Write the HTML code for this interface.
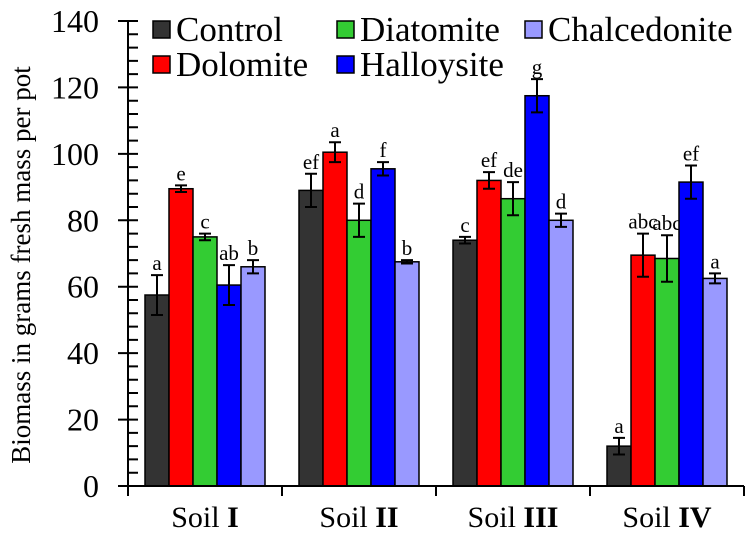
<!DOCTYPE html>
<html><head><meta charset="utf-8"><style>
html,body{margin:0;padding:0;background:#fff;}
svg{display:block;}
text{font-family:"Liberation Serif",serif;}
</style></head><body>
<svg id="chart" width="753" height="540" viewBox="0 0 753 540" font-family="Liberation Serif, serif"></svg>
<script>
const categories = ["I", "II", "III", "IV"];
const seriesNames = ["Control", "Dolomite", "Diatomite", "Halloysite", "Chalcedonite"];
const controlVals = [57.5, 89, 74, 12];
const dolomiteVals = [89.5, 100.5, 92, 69.5];
const diatomiteVals = [75, 80, 86.5, 68.5];
const halloysiteVals = [60.5, 95.5, 117.5, 91.5];
const chalcedoniteVals = [66, 67.5, 80, 62.5];
const controlErr = [6, 5, 1, 2.5];
const dolomiteErr = [1, 3, 2.5, 6.5];
const diatomiteErr = [1, 5, 5, 7];
const halloysiteErr = [6, 2, 5, 5];
const chalcedoniteErr = [2, 0.5, 2, 1.5];
const controlLetters = ["a", "ef", "c", "a"];
const dolomiteLetters = ["e", "a", "ef", "abc"];
const diatomiteLetters = ["c", "d", "de", "abc"];
const halloysiteLetters = ["ab", "f", "g", "ef"];
const chalcedoniteLetters = ["b", "b", "d", "a"];
const yTicks = [0, 20, 40, 60, 80, 100, 120, 140];

const values = [controlVals, dolomiteVals, diatomiteVals, halloysiteVals, chalcedoniteVals];
const errs = [controlErr, dolomiteErr, diatomiteErr, halloysiteErr, chalcedoniteErr];
const letters = [controlLetters, dolomiteLetters, diatomiteLetters, halloysiteLetters, chalcedoniteLetters];
const colors = ["#333333", "#ff0000", "#33cc33", "#0000ff", "#9999ff"];
const keys = ["control", "dolomite", "diatomite", "halloysite", "chalcedonite"];

const svg = document.getElementById('chart');
const NS = "http://www.w3.org/2000/svg";
const X0 = 128, X1 = 744, Y0 = 486, Y1 = 21, YMAX = 140;
const groupW = (X1 - X0) / categories.length;
const barW = 24;
function y(v){ return Y0 - (v / YMAX) * (Y0 - Y1); }
function gx(i){ return X0 + i * groupW; }
function mk(tag, attrs){ const e = document.createElementNS(NS, tag); for (const k in attrs) e.setAttribute(k, attrs[k]); svg.appendChild(e); return e; }
const FF = "Liberation Serif, serif";

categories.forEach((c, gi) => {
  const start = gx(gi) + groupW / 2 - barW * seriesNames.length / 2;
  values.forEach((arr, si) => {
    const v = arr[gi], bx = start + si * barW;
    const r = mk('rect', {x: bx, y: y(v), width: barW, height: Y0 - y(v), fill: colors[si], stroke: '#000', 'stroke-width': 1.5});
    
    
    const e = errs[si][gi], cx = bx + barW / 2;
    const eb = mk('path', {d: `M${cx},${y(v+e)}V${y(v-e)}M${cx-6},${y(v+e)}H${cx+6}M${cx-6},${y(v-e)}H${cx+6}`, stroke: '#000', 'stroke-width': 2, fill: 'none'});
    
    
    const t = mk('text', {x: cx, y: y(v+e) - 5, 'font-size': 21, 'font-family': FF, 'text-anchor': 'middle', fill: '#000'});
    t.textContent = letters[si][gi];
    
    
  });
  const lab = mk('text', {x: gx(gi) + groupW / 2, y: 527, 'font-size': 30, 'font-family': FF, 'text-anchor': 'middle', fill: '#000'});
  lab.innerHTML = 'Soil <tspan font-weight="bold">' + c + '</tspan>';
  
  
});

const ax = mk('path', {d: `M${X0},${Y1}V${Y0+1}M${X0-10},${Y0}H${X1}`, stroke: '#000', 'stroke-width': 2, fill: 'none'});


let tk = '';
for (let v = 0; v <= YMAX; v += 4) {
  const yy = y(v);
  if (v % 20 === 0) tk += `M${X0-10},${yy}H${X0+10}`; else tk += `M${X0},${yy}H${X0+10}`;
}
for (let i = 0; i <= categories.length; i++) tk += `M${gx(i)},${Y0}V${Y0+10}`;
const ticks = mk('path', {d: tk, stroke: '#000', 'stroke-width': 2, fill: 'none'});


yTicks.forEach(v => {
  const t = mk('text', {x: 99, y: y(v) + 11, 'font-size': 32, 'font-family': FF, 'text-anchor': 'end', fill: '#000'});
  t.textContent = v;
  
  
});
const yt = mk('text', {x: 0, y: 0, 'font-size': 27, 'font-family': FF, 'text-anchor': 'middle', fill: '#000', transform: 'translate(30,265) rotate(-90)'});
yt.textContent = 'Biomass in grams fresh mass per pot';



const legPos = [[153, 21], [153, 56], [337, 21], [337, 56], [525, 21]];
seriesNames.forEach((n, si) => {
  const [lx, ly] = legPos[si];
  const g = document.createElementNS(NS, 'g');
  
  
  svg.appendChild(g);
  const r = document.createElementNS(NS, 'rect');
  r.setAttribute('x', lx); r.setAttribute('y', ly); r.setAttribute('width', 17); r.setAttribute('height', 17);
  r.setAttribute('fill', colors[si]); r.setAttribute('stroke', '#000'); r.setAttribute('stroke-width', 1.5);
  g.appendChild(r);
  const t = document.createElementNS(NS, 'text');
  t.setAttribute('x', lx + 23); t.setAttribute('y', ly + 20);
  t.setAttribute('font-size', 35);
  t.setAttribute('font-family', FF);
  t.textContent = n;
  g.appendChild(t);
});
</script>
</body></html>
